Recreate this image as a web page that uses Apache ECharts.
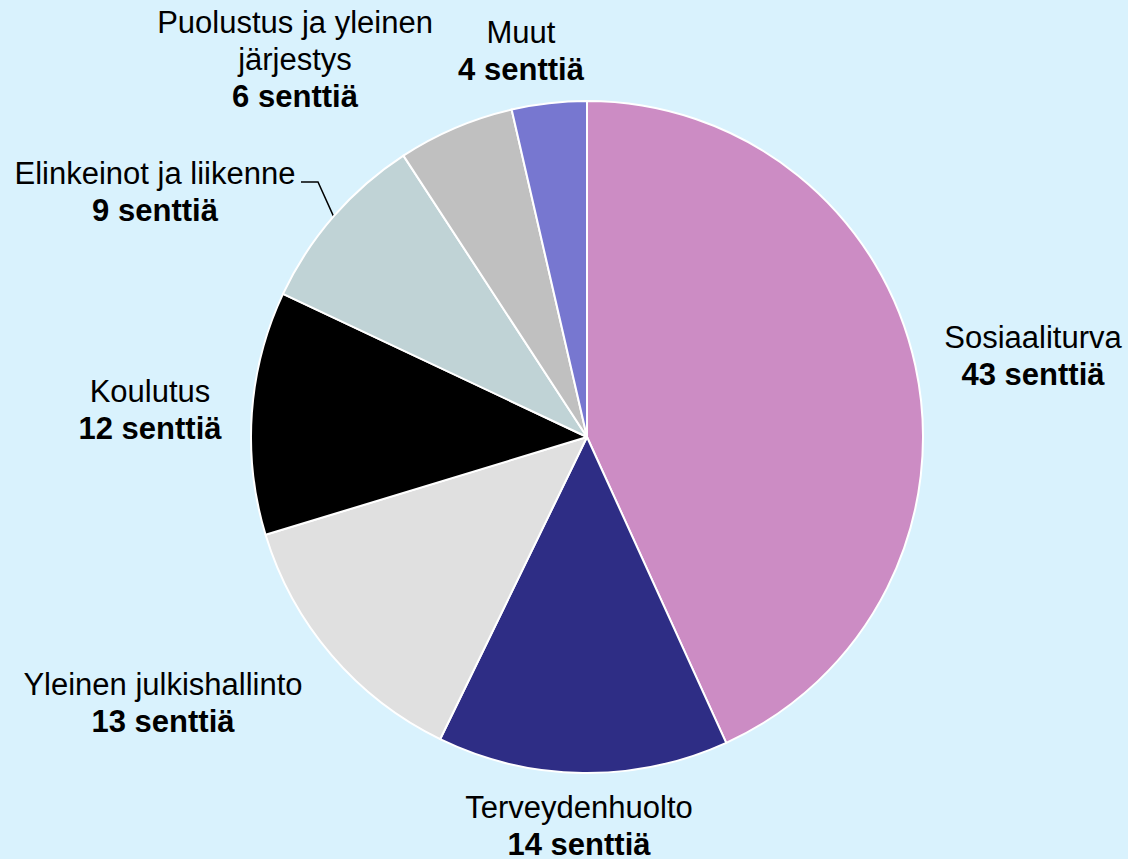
<!DOCTYPE html>
<html>
<head>
<meta charset="utf-8">
<script src="https://cdn.jsdelivr.net/npm/echarts@6/dist/echarts.min.js"></script>
<style>
  html, body { margin: 0; padding: 0; background: #d9f2fd; }
  #chart { width: 1128px; height: 859px; }
</style>
</head>
<body>
<div id="chart"></div>
<script>
// luokat ja osuudet (senttiä per euro), luettu kuvasta
const categories = [
  'Sosiaaliturva',
  'Terveydenhuolto',
  'Yleinen julkishallinto',
  'Koulutus',
  'Elinkeinot ja liikenne',
  'Puolustus ja yleinen\njärjestys',
  'Muut'
]
const values = [43.2, 14.0, 13.1, 11.7, 8.8, 5.6, 3.6]
const colors = ['#cc8cc4', '#2e2d85', '#e0e0e0', '#000000', '#c0d3d6', '#c0c0c0', '#7777d0']

// label block centres (layout only)
const labelPos = [
  [1033, 356],
  [579, 826],
  [163, 703],
  [150, 410],
  [155, 192],
  [295, 59],
  [521, 51]
]

const font = '"Liberation Sans", Arial, sans-serif'
const instance = echarts.init(document.getElementById('chart'), null, { renderer: 'svg' })

instance.setOption({
  backgroundColor: '#d9f2fd',
  animation: false,
  series: [{
    type: 'pie',
    center: [587, 437],
    radius: 336,
    startAngle: 90,
    clockwise: true,
    avoidLabelOverlap: false,
    itemStyle: {
      borderColor: '#ffffff',
      borderWidth: 2
    },
    label: {
      show: true,
      position: 'outside',
      formatter: (p) => `{n|${p.name}}\n{v|${Math.round(p.value)} senttiä}`,
      rich: {
        n: { fontFamily: font, fontSize: 31, color: '#000', lineHeight: 37, align: 'center' },
        v: { fontFamily: font, fontSize: 31, fontWeight: 'bold', color: '#000', lineHeight: 37, align: 'center' }
      }
    },
    labelLine: { show: false },
    labelLayout: (params) => {
      const i = params.dataIndex
      const out = {
        x: labelPos[i][0],
        y: labelPos[i][1],
        align: 'center',
        verticalAlign: 'middle'
      }
      if (i === 4 && params.labelLinePoints) {
        const start = params.labelLinePoints[0]
        out.labelLinePoints = [start, [318, 182], [301, 182]]
      }
      return out
    },
    data: categories.map((name, i) => ({
      name,
      value: values[i],
      itemStyle: { color: colors[i] },
      labelLine: i === 4
        ? { show: true, length: 20, length2: 18, lineStyle: { color: '#000', width: 1.5 } }
        : { show: false }
    }))
  }]
})
</script>
</body>
</html>
